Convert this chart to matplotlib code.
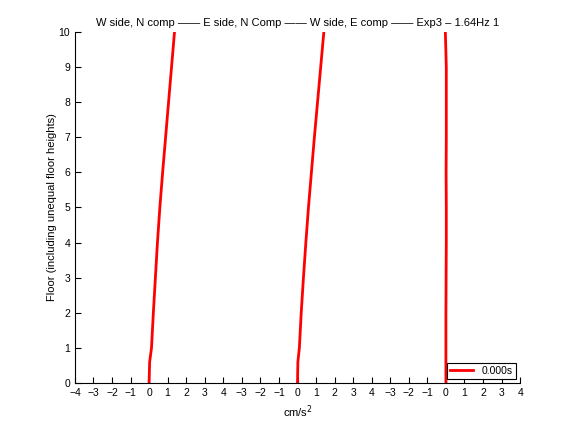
import matplotlib
matplotlib.use("Agg")
import matplotlib.pyplot as plt

floors = [0, 0.6, 1, 2, 3, 4, 5, 6, 7, 8, 9, 10]
w_side_n = [0, 0.03, 0.13, 0.23, 0.34, 0.45, 0.58, 0.73, 0.89, 1.05, 1.21, 1.37]
e_side_n = [0, 0.02, 0.10, 0.20, 0.32, 0.45, 0.59, 0.75, 0.91, 1.08, 1.25, 1.42]
w_side_e = [0, 0.0, 0.0, 0.0, 0.01, 0.02, 0.02, 0.01, 0.02, 0.02, 0.02, -0.03]
offsets = [0, 8, 16]
tick_positions = list(range(-4, 21))
tick_labels = [str(t) for t in range(-4, 5)] + [str(t) for t in range(-3, 5)] + [str(t) for t in range(-3, 5)]
tick_labels = [t.replace('-', '\u2212') for t in tick_labels]
legend_label = "0.000s"

plt.rcParams['font.family'] = ['Liberation Sans', 'DejaVu Sans']
fig = plt.figure(figsize=(5.76, 4.32), dpi=100)
ax = fig.add_axes([0.13, 0.1134, 0.773, 0.8126])

series = [w_side_n, e_side_n, w_side_e]
for i, (vals, off) in enumerate(zip(series, offsets)):
    ax.plot([v + off for v in vals], floors, color='red', lw=2,
            label=legend_label if i == 0 else None)

ax.set_xlim(-4, 20)
ax.set_ylim(0, 10)
ax.set_xticks(tick_positions)
ax.set_xticklabels(tick_labels)
ax.set_yticks(range(0, 11))
ax.tick_params(direction='in', labelsize=7.5, length=4, width=0.8)
for s in ['top', 'right']:
    ax.spines[s].set_visible(False)
ax.set_xlabel('cm/s$^2$', fontsize=8)
ax.set_ylabel('Floor (including unequal floor heights)', fontsize=8, labelpad=1)
ax.set_title('W side, N comp —— E side, N Comp —— W side, E comp —— Exp3 – 1.64Hz 1',
             fontsize=8, pad=4)
leg = ax.legend(loc='lower right', fontsize=7.5, frameon=True, fancybox=False,
                edgecolor='black', framealpha=1, borderaxespad=0.4,
                handlelength=2.2, borderpad=0.3)
leg.get_frame().set_linewidth(0.8)

fig.savefig('out.png', dpi=100)
